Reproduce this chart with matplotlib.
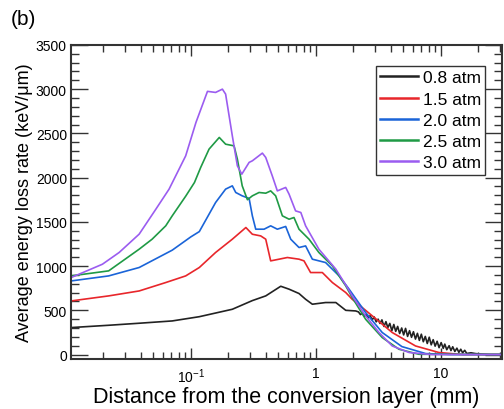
import matplotlib
matplotlib.use('Agg')
import matplotlib.pyplot as plt
from matplotlib.ticker import FixedLocator, FixedFormatter, MultipleLocator, LogLocator, NullFormatter

plt.rcParams['font.family'] = ['Liberation Sans', 'DejaVu Sans']
plt.rcParams['mathtext.fontset'] = 'custom'
plt.rcParams['mathtext.rm'] = 'Liberation Sans'
plt.rcParams['mathtext.it'] = 'Liberation Sans:italic'

# data (distance in mm, loss rate in keV/um)
x_08 = [0.011, 0.022, 0.0386, 0.071, 0.117, 0.215, 0.311, 0.398, 0.525, 0.612, 0.735, 0.83, 0.94,
        1.2, 1.45, 1.74, 2.09,
        2.20, 2.28, 2.37, 2.45, 2.54, 2.64, 2.73, 2.83, 2.94, 3.05, 3.16, 3.27, 3.39, 3.52, 3.65,
        3.78, 3.92, 4.07, 4.22, 4.37, 4.53, 4.70, 4.88, 5.06, 5.24, 5.44, 5.64, 5.85, 6.06, 6.29,
        6.52, 6.76, 7.01, 7.27, 7.54, 7.82, 8.11, 8.41, 8.72, 9.04, 9.38, 9.72, 10.1, 10.5, 10.8,
        11.2, 11.7, 12.1, 12.5, 13.0, 13.5, 14.0, 14.5, 15.0, 15.6, 16.2,
        17.5, 19, 21, 25, 40]
y_08 = [305, 331, 354, 380, 428, 512, 610, 663, 772, 739, 690, 625, 569,
        588, 588, 500, 493,
        482, 452, 468, 430, 455, 415, 440, 392, 425, 370, 400, 352, 392, 318, 372,
        305, 352, 270, 340, 262, 318, 238, 300, 222, 296, 205, 270, 195, 258, 175,
        240, 160, 230, 145, 205, 125, 196, 110, 168, 95, 150, 78, 135, 70, 118,
        55, 100, 45, 88, 35, 72, 25, 60, 20, 48, 12,
        20, 11, 5, 0, 0]

x_15 = [0.011, 0.022, 0.0386, 0.063, 0.091, 0.117, 0.158, 0.215, 0.276, 0.311, 0.363, 0.398, 0.436,
        0.509, 0.593, 0.735, 0.806, 0.91, 1.13, 1.36, 1.74, 1.96, 2.84, 4.1, 6.3, 9.7, 15, 40]
y_15 = [606, 663, 719, 814, 889, 984, 1154, 1304, 1436, 1360, 1341, 1304, 1059,
        1078, 1097, 1078, 1059, 927, 927, 814, 701, 625, 437, 249, 97, 23, 0, 0]

x_20 = [0.011, 0.022, 0.0386, 0.071, 0.1, 0.117, 0.158, 0.19, 0.215, 0.229, 0.258, 0.293, 0.311, 0.331,
        0.386, 0.436, 0.493, 0.575, 0.631, 0.735, 0.83, 0.94, 1.2, 1.54, 1.85, 2.51, 3.41, 4.9, 7.6, 12, 40]
y_20 = [832, 889, 984, 1180, 1330, 1390, 1719, 1870, 1907, 1832, 1794, 1765, 1568, 1417,
        1417, 1455, 1417, 1448, 1304, 1210, 1228, 1078, 1040, 889, 739, 475, 249, 90, 11, 0, 0]

x_25 = [0.011, 0.022, 0.0386, 0.049, 0.063, 0.071, 0.091, 0.107, 0.120, 0.140, 0.169, 0.190, 0.222,
        0.236, 0.258, 0.284, 0.311, 0.352, 0.398, 0.436, 0.478, 0.541, 0.612, 0.67, 0.735, 0.884,
        1.06, 1.36, 1.74, 1.96, 2.51, 3.41, 4.64, 6.7, 40]
y_25 = [889, 946, 1191, 1304, 1455, 1568, 1790, 1945, 2115, 2322, 2454, 2378, 2359,
        2209, 1907, 1750, 1794, 1832, 1824, 1850, 1794, 1568, 1530, 1549, 1417, 1304,
        1154, 1002, 776, 645, 399, 192, 60, 3, 0]

x_30 = [0.011, 0.0196, 0.0267, 0.0386, 0.0525, 0.067, 0.091, 0.110, 0.136, 0.158, 0.179, 0.190,
        0.215, 0.236, 0.256, 0.293, 0.311, 0.374, 0.398, 0.449, 0.493, 0.575, 0.612, 0.69, 0.76,
        0.83, 1.06, 1.45, 1.79, 1.96, 2.51, 3.21, 4.1, 5.6, 8.5, 40]
y_30 = [870, 1021, 1154, 1361, 1643, 1870, 2246, 2624, 2975, 2963, 3000, 2944,
        2472, 2133, 2039, 2172, 2190, 2277, 2228, 2020, 1850, 1889, 1813, 1624, 1606,
        1455, 1191, 965, 758, 663, 437, 249, 97, 23, 0, 0]

labels = ['0.8 atm', '1.5 atm', '2.0 atm', '2.5 atm', '3.0 atm']
colors = ['#222222', '#e8262b', '#1a64d8', '#1f9a45', '#9b5cf0']
xticks = [0.1, 1, 10]
xticklabels = ['$10^{-1}$', '1', '10']

fig = plt.figure(figsize=(5.04, 4.10), dpi=100)
ax = fig.add_axes([0.141, 0.122, 0.855, 0.766])

series = [(x_08, y_08), (x_15, y_15), (x_20, y_20), (x_25, y_25), (x_30, y_30)]
for (xs, ys), lab, col in zip(series, labels, colors):
    ax.plot(xs, ys, color=col, lw=1.2, label=lab)

ax.set_xscale('log')
ax.set_xlim(0.011, 31)
ax.set_ylim(-50, 3500)

ax.xaxis.set_major_locator(FixedLocator(xticks))
ax.xaxis.set_major_formatter(FixedFormatter(xticklabels))
ax.xaxis.set_minor_locator(LogLocator(base=10, subs=range(2, 10)))
ax.xaxis.set_minor_formatter(NullFormatter())
ax.yaxis.set_major_locator(MultipleLocator(500))
ax.yaxis.set_minor_locator(MultipleLocator(100))

ax.tick_params(which='both', direction='in', top=True, right=True, color='#333333', width=1.0)
ax.tick_params(axis='y', which='major', length=12, labelsize=10, pad=3)
ax.tick_params(axis='y', which='minor', length=6)
ax.tick_params(axis='x', which='major', length=8, labelsize=10, pad=5)
ax.tick_params(axis='x', which='minor', length=5)
for s in ax.spines.values():
    s.set_color('#333333')
    s.set_linewidth(1.5)

ax.set_xlabel('Distance from the conversion layer (mm)', fontsize=15.5, labelpad=1)
ax.set_ylabel('Average energy loss rate (keV/\u03bcm)', fontsize=13, labelpad=2)
fig.text(0.022, 0.94, '(b)', fontsize=15)

leg = ax.legend(loc='upper right', bbox_to_anchor=(0.961, 0.933), fontsize=12.5, fancybox=False,
                edgecolor='#333333', framealpha=1, handlelength=2.2, handletextpad=0.25,
                borderpad=0.25, labelspacing=0.35, borderaxespad=0)
leg.get_frame().set_linewidth(1.0)
for h in leg.get_lines():
    h.set_linewidth(1.8)

fig.savefig('out.png', dpi=100)
